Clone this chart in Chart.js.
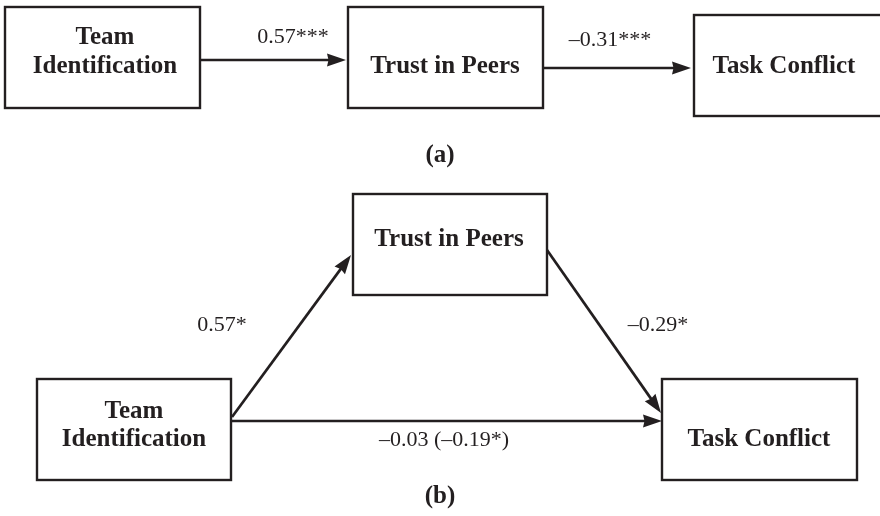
<!DOCTYPE html>
<html lang="en">
<head>
    <meta charset="UTF-8">
    <title>Team Identification, Trust in Peers and Task Conflict</title>
    <script src="https://cdn.jsdelivr.net/npm/chart.js@4.4.3/dist/chart.umd.min.js"></script>
    <style>
        body {
            margin: 0;
            background: #fff;
        }
        #wrap {
            width: 880px;
            height: 516px;
        }
    </style>
</head>
<body>
    <div id="wrap"><canvas id="pathChart" width="880" height="516"></canvas></div>

    <script>
        // Diagram content
        const nodeLabels = ['Team\nIdentification', 'Trust in Peers', 'Task Conflict'];
        const panelLabels = ['(a)', '(b)'];
        // paths: panel index, from node, to node, coefficient text
        const pathPanel = [0, 0, 1, 1, 1];
        const pathFrom  = [0, 1, 0, 1, 0];
        const pathTo    = [1, 2, 1, 2, 2];
        const pathCoefs = ['0.57***', '–0.31***', '0.57*', '–0.29*', '–0.03 (–0.19*)'];

        // Layout (pixel units on the hidden 0..880 / 0..516 scales)
        const boxes = [
            // panel (a)
            [{x: 5, y: 7, w: 195, h: 101, tx: 105}, {x: 348, y: 7, w: 195, h: 101, tx: 445}, {x: 694, y: 15, w: 196, h: 101, tx: 784}],
            // panel (b)
            [{x: 37, y: 379, w: 194, h: 101, tx: 134}, {x: 353, y: 194, w: 194, h: 101, tx: 449}, {x: 662, y: 379, w: 195, h: 101, tx: 759}]
        ];
        const nodeTextY = [[[38, 67], [67], [67]], [[412, 440], [240], [440]]];
        const arrows = [
            {x1: 200, y1: 60, x2: 346, y2: 60, lx: 293, ly: 37},
            {x1: 543, y1: 68, x2: 691, y2: 68, lx: 610, ly: 40},
            {x1: 232, y1: 417, x2: 351, y2: 255, lx: 222, ly: 325},
            {x1: 547, y1: 250, x2: 661, y2: 413, lx: 658, ly: 325},
            {x1: 232, y1: 421, x2: 662, y2: 421, lx: 444, ly: 440}
        ];
        const panelLabelPos = [{x: 440, y: 156}, {x: 440, y: 497}];

        const ink = '#231f20';
        const boldFont = 'bold 25px "Liberation Serif", serif';
        const regFont = '22px "Liberation Serif", serif';
        const headLen = 19, headHalf = 6.5;

        // arrow shafts as line datasets, stopping at the arrowhead base
        const datasets = arrows.map(function (a) {
            const len = Math.hypot(a.x2 - a.x1, a.y2 - a.y1);
            const ux = (a.x2 - a.x1) / len, uy = (a.y2 - a.y1) / len;
            return {
                data: [{x: a.x1, y: a.y1}, {x: a.x2 - ux * (headLen - 3), y: a.y2 - uy * (headLen - 3)}],
                showLine: true,
                borderColor: ink,
                borderWidth: 2.7,
                pointRadius: 0,
                fill: false
            };
        });

        const diagramPlugin = {
            id: 'diagram',
            afterDatasetsDraw(chart) {
                const ctx = chart.ctx;
                const xs = chart.scales.x, ys = chart.scales.y;
                const px = v => xs.getPixelForValue(v);
                const py = v => ys.getPixelForValue(v);
                ctx.save();
                ctx.strokeStyle = ink;
                ctx.fillStyle = ink;
                ctx.textAlign = 'center';
                ctx.textBaseline = 'middle';

                // boxes and node names
                boxes.forEach(function (panel, p) {
                    panel.forEach(function (b, n) {
                        ctx.lineWidth = 2.4;
                        ctx.strokeRect(px(b.x), py(b.y), px(b.x + b.w) - px(b.x), py(b.y + b.h) - py(b.y));
                        ctx.font = boldFont;
                        nodeLabels[n].split('\n').forEach(function (line, i) {
                            ctx.fillText(line, px(b.tx), py(nodeTextY[p][n][i]));
                        });
                    });
                });

                // arrowheads and coefficients
                arrows.forEach(function (a, i) {
                    const len = Math.hypot(a.x2 - a.x1, a.y2 - a.y1);
                    const ux = (a.x2 - a.x1) / len, uy = (a.y2 - a.y1) / len;
                    const tx = px(a.x2), ty = py(a.y2);
                    const bx = tx - ux * headLen, by = ty - uy * headLen;
                    ctx.beginPath();
                    ctx.moveTo(tx, ty);
                    ctx.lineTo(bx - uy * headHalf, by + ux * headHalf);
                    ctx.lineTo(bx + ux * 1.5, by + uy * 1.5);
                    ctx.lineTo(bx + uy * headHalf, by - ux * headHalf);
                    ctx.closePath();
                    ctx.fill();
                    ctx.font = regFont;
                    ctx.fillText(pathCoefs[i], px(a.lx), py(a.ly));
                });

                // panel captions
                ctx.font = boldFont;
                panelLabels.forEach(function (t, i) {
                    ctx.fillText(t, px(panelLabelPos[i].x), py(panelLabelPos[i].y));
                });
                ctx.restore();
            }
        };

        new Chart(document.getElementById('pathChart'), {
            type: 'scatter',
            data: {datasets: datasets},
            options: {
                responsive: false,
                animation: false,
                events: [],
                layout: {padding: 0},
                plugins: {legend: {display: false}, tooltip: {enabled: false}},
                scales: {
                    x: {type: 'linear', min: 0, max: 880, display: false},
                    y: {type: 'linear', min: 0, max: 516, reverse: true, display: false}
                }
            },
            plugins: [diagramPlugin]
        });
    </script>
</body>
</html>
